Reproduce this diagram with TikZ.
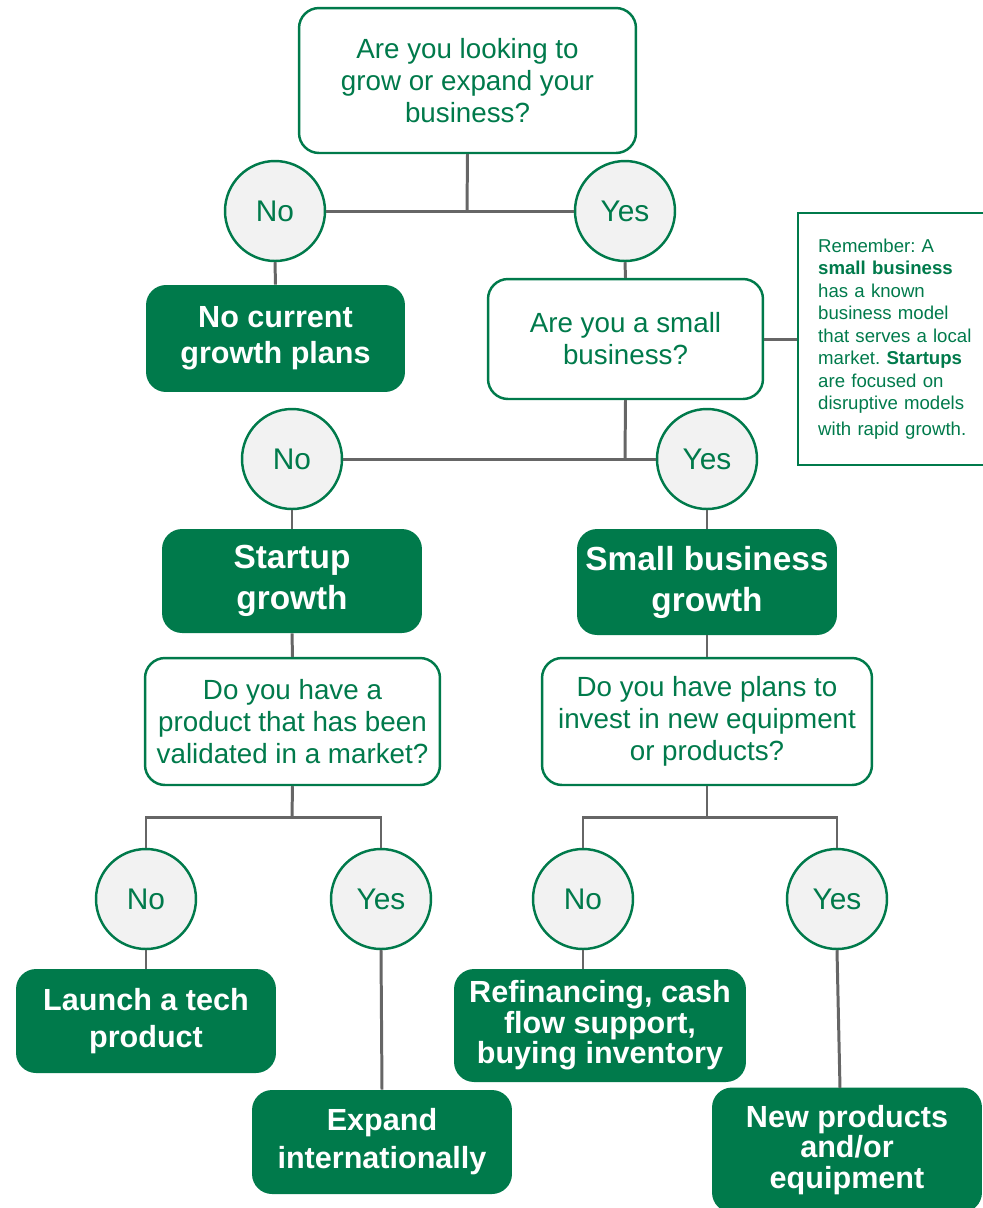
\documentclass[tikz,border=0pt]{standalone}
\usepackage{fontspec}
\setmainfont{Liberation Sans}
\usepackage{tikz}
\definecolor{bizgreen}{HTML}{007A4B}
\definecolor{circfill}{HTML}{F2F2F2}
\definecolor{linegray}{HTML}{666666}
\frenchspacing

\begin{document}
\begin{tikzpicture}[x=0.02cm, y=-0.02cm,
    question/.style={draw=bizgreen, line width=1.4pt, fill=white, rounded corners=0.4cm,
        text=bizgreen, align=center, inner sep=0pt, font=\fontsize{15.8}{18.2}\selectfont},
    answer/.style={draw=bizgreen, line width=1.4pt, fill=circfill, circle, minimum size=2cm,
        inner sep=0pt, text=bizgreen, font=\fontsize{17}{20}\selectfont},
    outcome/.style={fill=bizgreen, rounded corners=0.4cm, text=white, align=center,
        inner sep=0pt, font=\fontsize{17.4}{21}\selectfont\bfseries},
    conn/.style={draw=linegray, line width=1.7pt}]
    \useasboundingbox (0,0) rectangle (983,1208);
    \clip (0,0) rectangle (983,1208);

    % first question
    \node[question, minimum width=6.74cm, minimum height=2.9cm] (q1) at (467.5,80.5)
        {Are you looking to\\grow or expand your\\business?};
    \node[answer] (no1) at (275,211) {No};
    \node[answer] (yes1) at (625,211) {Yes};
    \node[outcome, minimum width=5.18cm, minimum height=2.14cm,
        font=\fontsize{17.4}{20.5}\selectfont\bfseries] (r1) at (275.5,338.5)
        {No current\\growth plans};

    % small business or startup
    \node[question, minimum width=5.5cm, minimum height=2.4cm] (q2) at (625.5,339)
        {Are you a small\\business?};
    \node[draw=bizgreen, line width=1.4pt, anchor=west, minimum width=4.7cm, minimum height=5.04cm,
        text width=3.9cm, inner xsep=0.4cm, align=left, text=bizgreen,
        font=\fontsize{10.6}{12.8}\selectfont] (note) at (797,339)
        {Remember: A\\\textbf{small business}\\has a known\\business model\\that serves a local\\
         market. \textbf{Startups}\\are focused on\\disruptive models\\[2pt]with rapid growth.};
    \node[answer] (no2) at (292,459) {No};
    \node[answer] (yes2) at (707,459) {Yes};
    \node[outcome, minimum width=5.2cm, minimum height=2.08cm,
        font=\fontsize{19}{23.3}\selectfont\bfseries] (r2) at (292,581) {Startup\\growth};
    \node[outcome, minimum width=5.2cm, minimum height=2.12cm,
        font=\fontsize{19}{23.3}\selectfont\bfseries] (r3) at (707,582) {Small business\\growth};

    % third level
    \node[question, minimum width=5.9cm, minimum height=2.54cm] (q3) at (292.5,721.5)
        {Do you have a\\product that has been\\validated in a market?};
    \node[question, minimum width=6.6cm, minimum height=2.54cm] (q4) at (707,721.5)
        {Do you have plans to\\invest in new equipment\\or products?};
    \node[answer] (no3) at (146,899) {No};
    \node[answer] (yes3) at (381,899) {Yes};
    \node[answer] (no4) at (583,899) {No};
    \node[answer] (yes4) at (837,899) {Yes};

    \node[outcome, minimum width=5.2cm, minimum height=2.08cm] (r4) at (146,1021)
        {Launch a tech\\product};
    \node[outcome, minimum width=5.2cm, minimum height=2.08cm,
        font=\fontsize{17.4}{21.6}\selectfont\bfseries] (r5) at (382,1142)
        {Expand\\internationally};
    \node[outcome, minimum width=5.84cm, minimum height=2.26cm,
        font=\fontsize{17.4}{17.4}\selectfont\bfseries] (r6) at (600,1025.5)
        {Refinancing, cash\\flow support,\\buying inventory};
    \node[outcome, minimum width=5.4cm, minimum height=2.5cm,
        font=\fontsize{17.4}{17.4}\selectfont\bfseries] (r7) at (847,1150)
        {New products\\and/or\\equipment};

    \coordinate (j1) at (467,211);
    \coordinate (j2) at (625,459);
    \coordinate (j3) at (292,817);
    \coordinate (j4) at (707,817);

    \draw[conn] (q1.south) -- (j1);
    \draw[conn] (no1.east) -- (yes1.west);
    \draw[conn] (no1.south) -- (r1.north);
    \draw[conn] (yes1.south) -- (q2.north);
    \draw[conn] (q2.east) -- (note.west);
    \draw[conn] (q2.south) -- (j2);
    \draw[conn] (no2.east) -- (yes2.west);
    \draw[conn] (no2.south) -- (r2.north);
    \draw[conn] (yes2.south) -- (r3.north);
    \draw[conn] (r2.south) -- (q3.north);
    \draw[conn] (r3.south) -- (q4.north);
    \draw[conn] (q3.south) -- (j3);
    \draw[conn] (no3.north) |- (j3) -| (yes3.north);
    \draw[conn] (q4.south) -- (j4);
    \draw[conn] (no4.north) |- (j4) -| (yes4.north);
    \draw[conn] (no3.south) -- (r4.north);
    \draw[conn] (yes3.south) -- (r5.north);
    \draw[conn] (no4.south) -- (no4.south |- r6.north);
    \draw[conn] (yes4.south) -- (840,1088);
\end{tikzpicture}
\end{document}
